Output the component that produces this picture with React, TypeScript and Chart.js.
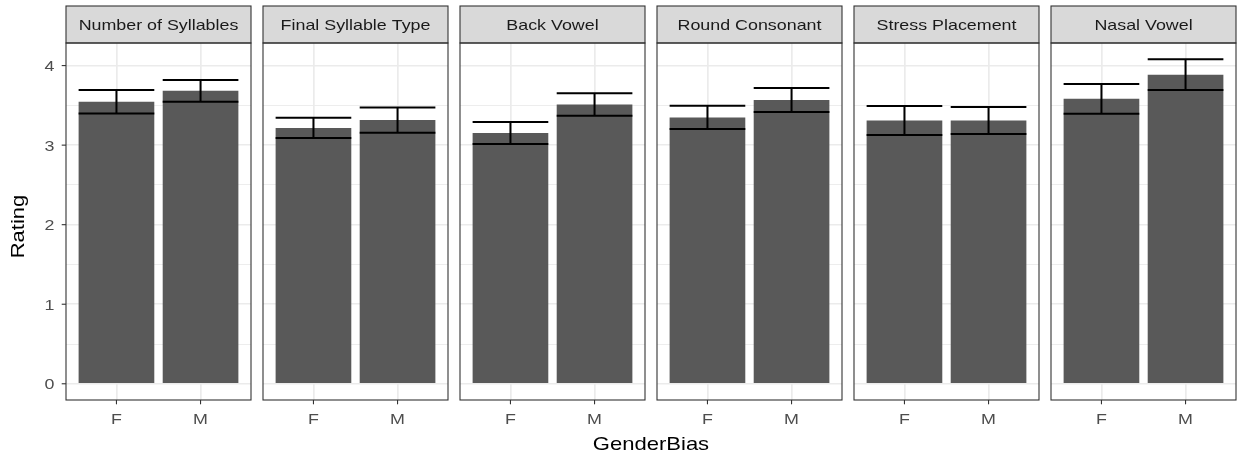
import React, { useEffect, useRef } from 'react';
import { Chart, registerables } from 'chart.js';

Chart.register(...registerables);

// ---------------- data ----------------
const facets = [
  'Number of Syllables',
  'Final Syllable Type',
  'Back Vowel',
  'Round Consonant',
  'Stress Placement',
  'Nasal Vowel',
];
const genderLabels = ['F', 'M'];
const genderPositions = [1, 2];
const meanF = [3.545, 3.217, 3.153, 3.348, 3.31, 3.582];
const meanM = [3.683, 3.315, 3.511, 3.567, 3.31, 3.886];
const seF = [0.147, 0.128, 0.138, 0.146, 0.182, 0.188];
const seM = [0.136, 0.159, 0.142, 0.15, 0.17, 0.194];
const yTickValues = [0, 0.5, 1, 1.5, 2, 2.5, 3, 3.5, 4];
const yTitle = 'Rating';
const xTitle = 'GenderBias';

// ---------------- layout ----------------
const W = 1238;
const H = 456;
const PANEL_LEFT0 = 66;
const PANEL_W = 185;
const PANEL_STEP = 197;
const PLOT_TOP = 43;
const PLOT_BOTTOM = 400;
const STRIP_TOP = 6;
const FONT = '"Liberation Sans", Arial, Helvetica, sans-serif';
const TEXT_SX = 1.19;
const SMALL = 15;
const BIG = 18.5;

const upperAll = [...meanF.map((m, i) => m + seF[i]), ...meanM.map((m, i) => m + seM[i])];
const dataMax = Math.max(...upperAll);
const yMin = -0.05 * dataMax;
const yMax = 1.05 * dataMax;

function drawText(
  ctx: CanvasRenderingContext2D,
  text: string,
  x: number,
  y: number,
  size: number,
  color: string,
  align: CanvasTextAlign,
  rotation = 0
) {
  ctx.save();
  ctx.translate(x, y);
  if (rotation) ctx.rotate(rotation);
  ctx.scale(TEXT_SX, 1);
  ctx.font = `${size}px ${FONT}`;
  ctx.fillStyle = color;
  ctx.textAlign = align;
  ctx.textBaseline = 'alphabetic';
  ctx.fillText(text, 0, 0);
  ctx.restore();
}

function makePlugin(i: number) {
  return {
    id: 'facet' + i,
    afterDatasetsDraw(chart: any) {
      const { ctx, scales } = chart;
      const x = scales.x;
      const y = scales.y;
      const means = [meanF[i], meanM[i]];
      const ses = [seF[i], seM[i]];
      ctx.save();
      ctx.strokeStyle = '#000000';
      ctx.lineWidth = 2;
      genderPositions.forEach((p, k) => {
        const xl = x.getPixelForValue(p - 0.45);
        const xr = x.getPixelForValue(p + 0.45);
        const xc = x.getPixelForValue(p);
        const yu = y.getPixelForValue(means[k] + ses[k]);
        const yl = y.getPixelForValue(means[k] - ses[k]);
        ctx.beginPath();
        ctx.moveTo(xl, yu);
        ctx.lineTo(xr, yu);
        ctx.moveTo(xl, yl);
        ctx.lineTo(xr, yl);
        ctx.moveTo(xc, yu);
        ctx.lineTo(xc, yl);
        ctx.stroke();
      });
      ctx.restore();
    },
    afterDraw(chart: any) {
      const { ctx, chartArea: a, scales } = chart;
      const x = scales.x;
      const y = scales.y;
      ctx.save();
      // strip
      ctx.fillStyle = '#D9D9D9';
      ctx.fillRect(a.left, STRIP_TOP, a.right - a.left, a.top - STRIP_TOP);
      ctx.strokeStyle = '#333333';
      ctx.lineWidth = 1.1;
      ctx.strokeRect(a.left, STRIP_TOP, a.right - a.left, a.top - STRIP_TOP);
      // panel border
      ctx.strokeRect(a.left, a.top, a.right - a.left, a.bottom - a.top);
      // strip text
      drawText(ctx, facets[i], (a.left + a.right) / 2, 30, SMALL, '#1A1A1A', 'center');
      // x ticks
      x.ticks.forEach((t: any, k: number) => {
        const px = x.getPixelForValue(t.value);
        ctx.beginPath();
        ctx.strokeStyle = '#333333';
        ctx.lineWidth = 1.1;
        ctx.moveTo(px, a.bottom);
        ctx.lineTo(px, a.bottom + 4.3);
        ctx.stroke();
        const label = t.label != null && t.label !== '' ? String(t.label) : genderLabels[k];
        drawText(ctx, label, px, 424, SMALL, '#4D4D4D', 'center');
      });
      if (i === 0) {
        y.ticks.forEach((t: any) => {
          if (!Number.isInteger(t.value)) return;
          const py = y.getPixelForValue(t.value);
          ctx.beginPath();
          ctx.strokeStyle = '#333333';
          ctx.lineWidth = 1.1;
          ctx.moveTo(a.left - 4.3, py);
          ctx.lineTo(a.left, py);
          ctx.stroke();
          const label = t.label != null && t.label !== '' ? String(t.label) : String(t.value);
          drawText(ctx, label, a.left - 11.5, py + 5.4, SMALL, '#4D4D4D', 'right');
        });
        drawText(ctx, yTitle, 23.5, (a.top + a.bottom) / 2 + 5, BIG, '#000000', 'center', -Math.PI / 2);
        const totalLeft = PANEL_LEFT0;
        const totalRight = PANEL_LEFT0 + PANEL_STEP * (facets.length - 1) + PANEL_W;
        drawText(ctx, xTitle, (totalLeft + totalRight) / 2, 450, BIG, '#000000', 'center');
      }
      ctx.restore();
    },
  };
}

function makeConfig(i: number): any {
  const left = PANEL_LEFT0 + PANEL_STEP * i;
  return {
    type: 'bar',
    data: {
      datasets: [
        {
          data: genderPositions.map((p, k) => ({ x: p, y: k === 0 ? meanF[i] : meanM[i] })),
          backgroundColor: '#595959',
          borderWidth: 0,
          barPercentage: 0.9,
          categoryPercentage: 1.0,
        },
      ],
    },
    options: {
      responsive: false,
      animation: false,
      devicePixelRatio: 1,
      layout: {
        padding: {
          left,
          right: W - left - PANEL_W,
          top: PLOT_TOP,
          bottom: H - PLOT_BOTTOM,
        },
      },
      plugins: {
        legend: { display: false },
        tooltip: { enabled: false },
        title: { display: false },
      },
      scales: {
        x: {
          type: 'linear',
          min: 0.4,
          max: 2.6,
          offset: false,
          afterBuildTicks: (s: any) => {
            s.ticks = genderPositions.map((v) => ({ value: v }));
          },
          ticks: {
            display: false,
            callback: (v: number) => {
              const idx = genderPositions.indexOf(v);
              return idx >= 0 ? genderLabels[idx] : '';
            },
          },
          grid: { color: '#EBEBEB', lineWidth: 1.7, drawTicks: false, offset: false },
          border: { display: false },
          afterFit: (s: any) => {
            s.height = 0;
          },
        },
        y: {
          type: 'linear',
          min: yMin,
          max: yMax,
          afterBuildTicks: (s: any) => {
            s.ticks = yTickValues.map((v) => ({ value: v }));
          },
          ticks: {
            display: false,
            callback: (v: number) => (Number.isInteger(v) ? String(v) : ''),
          },
          grid: {
            color: '#EBEBEB',
            lineWidth: (c: any) => (c.tick && Number.isInteger(c.tick.value) ? 1.5 : 0.9),
            drawTicks: false,
          },
          border: { display: false },
          afterFit: (s: any) => {
            s.width = 0;
          },
        },
      },
    },
    plugins: [makePlugin(i)],
  };
}

function Panel({ index }: { index: number }) {
  const ref = useRef<HTMLCanvasElement | null>(null);
  useEffect(() => {
    if (!ref.current) return;
    const chart = new Chart(ref.current, makeConfig(index));
    return () => chart.destroy();
  }, [index]);
  return (
    <canvas
      ref={ref}
      width={W}
      height={H}
      style={{ position: 'absolute', left: 0, top: 0, width: W, height: H }}
    />
  );
}

export default function App() {
  return (
    <div
      style={{
        position: 'fixed',
        left: 0,
        top: 0,
        width: W,
        height: H,
        background: '#ffffff',
        overflow: 'hidden',
      }}
    >
      {facets.map((f, i) => (
        <Panel key={f} index={i} />
      ))}
    </div>
  );
}
